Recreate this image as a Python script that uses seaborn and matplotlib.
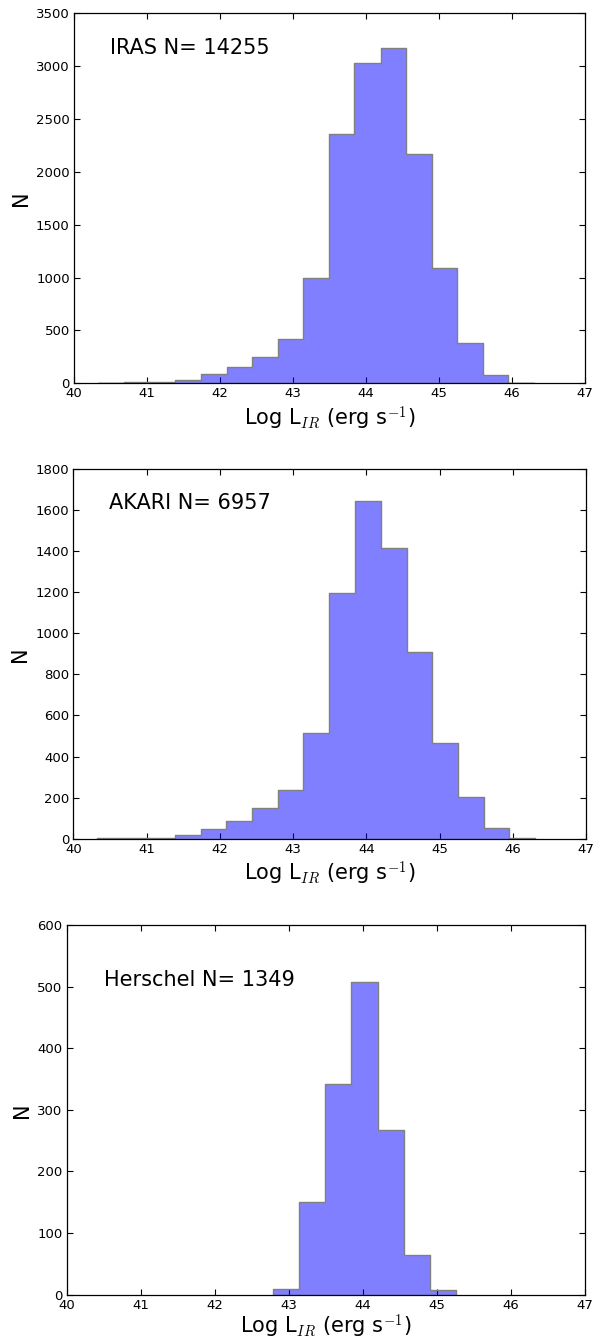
import numpy as np
import pandas as pd
import matplotlib
matplotlib.use("Agg")
import matplotlib.pyplot as plt
import seaborn as sns

# Shared bin edges in log L_IR
bin_edges = [40.33, 40.68, 41.03, 41.39, 41.74, 42.09, 42.44, 42.79, 43.14,
             43.49, 43.84, 44.20, 44.55, 44.90, 45.25, 45.60, 45.95, 46.30]

# Counts per bin for each survey
iras_counts = [1, 10, 16, 35, 87, 157, 250, 417, 995, 2360, 3030, 3175,
               2165, 1095, 381, 77, 3]
akari_counts = [2, 3, 3, 18, 49, 87, 151, 239, 515, 1198, 1645, 1413,
                908, 466, 201, 54, 5]
herschel_edges = [42.79, 43.14, 43.49, 43.84, 44.20, 44.55, 44.90, 45.25]
herschel_counts = [10, 150, 342, 507, 268, 64, 8]

surveys = ["IRAS", "AKARI", "Herschel"]
totals = [14255, 6957, 1349]
y_limits = [3500, 1800, 600]
x_ticks = [40, 41, 42, 43, 44, 45, 46, 47]

sns.set_style("ticks")
plt.rcParams["font.family"] = ["DejaVu Sans"]
plt.rcParams["mathtext.fontset"] = "cm"
plt.rcParams["mathtext.rm"] = "DejaVu Sans"
for key in ["text.color", "axes.labelcolor", "xtick.color", "ytick.color"]:
    plt.rcParams[key] = "black"

fig = plt.figure(figsize=(5.98, 13.41), dpi=100)
rects = [
    [0.1237, 0.7142, 0.8545, 0.2759],
    [0.1226, 0.3746, 0.8575, 0.2757],
    [0.1115, 0.0345, 0.8672, 0.2757],
]
text_pos = [(0.070, 0.906), (0.070, 0.908), (0.072, 0.852)]
xlabel_pads = [3, 3, 1]

panels = [
    (bin_edges, iras_counts),
    (bin_edges, akari_counts),
    (herschel_edges, herschel_counts),
]

for i, (edges, counts) in enumerate(panels):
    ax = fig.add_axes(rects[i])
    edges_arr = np.asarray(edges)
    centers = 0.5 * (edges_arr[:-1] + edges_arr[1:])
    df = pd.DataFrame({"logL": centers, "n": counts})
    sns.histplot(data=df, x="logL", weights="n", bins=list(edges),
                 element="step", fill=True, color="blue", alpha=0.5,
                 edgecolor="#808080", linewidth=1.0, ax=ax)
    ax.set_xlim(40, 47)
    ax.set_ylim(0, y_limits[i])
    ax.set_xticks(x_ticks)
    ax.set_xticklabels([str(t) for t in x_ticks])
    ax.tick_params(direction="in", top=True, right=True, length=4,
                   width=0.8, labelsize=9.5, pad=3, color="black")
    for sp in ax.spines.values():
        sp.set_color("black")
        sp.set_linewidth(0.9)
        sp.set_visible(True)
    ax.set_xlabel(r"Log L$_{IR}$ (erg s$^{-1}$)", fontsize=15,
                  labelpad=xlabel_pads[i])
    ax.set_ylabel("N", fontsize=15, labelpad=4)
    ax.text(text_pos[i][0], text_pos[i][1],
            f"{surveys[i]} N= {totals[i]}", transform=ax.transAxes,
            fontsize=15, va="center", ha="left")

fig.savefig("out.png", dpi=100)
